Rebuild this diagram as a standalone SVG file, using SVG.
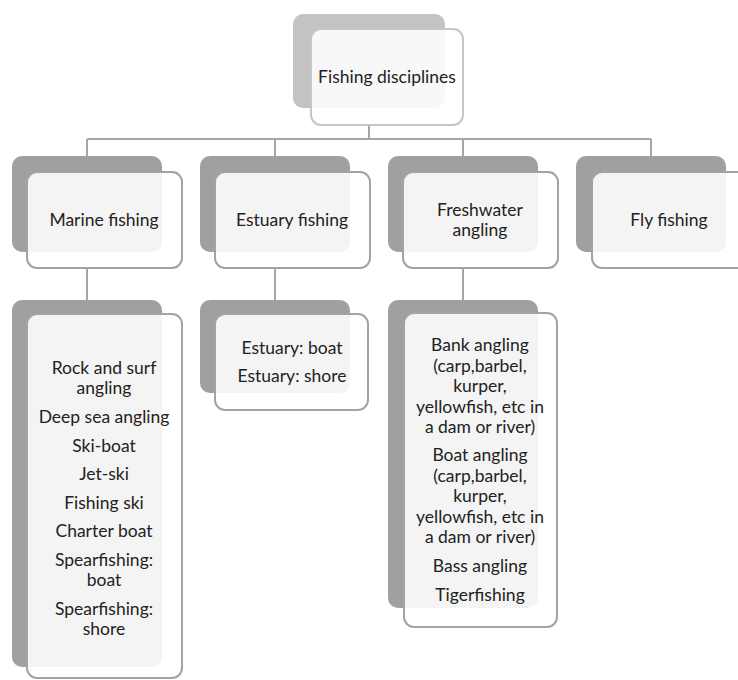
<svg xmlns="http://www.w3.org/2000/svg" width="738" height="680" viewBox="0 0 738 680">
  <style>
    .back { fill: #a0a0a0; }
    .back-top { fill: #c3c3c3; }
    .front { fill: #ffffff; fill-opacity: 0.88; stroke: #a3a3a3; stroke-width: 2; }
    .front-top { fill: #ffffff; fill-opacity: 0.88; stroke: #c6c6c6; stroke-width: 2; }
    .conn { fill: none; stroke: #a6a6a6; stroke-width: 2; }
    text { font-family: Lato, "Open Sans", sans-serif; font-size: 17.5px; fill: #222222; text-anchor: middle; }
  </style>
  <rect width="738" height="680" fill="#ffffff"/>

  <!-- tree connectors -->
  <g id="connectors">
    <path class="conn" d="M369 125 V139 M87 139 H651 M87 139 V156 M275 139 V156 M463 139 V156 M651 139 V156"/>
    <path class="conn" d="M87 268 V300 M275 268 V300 M463 268 V300"/>
  </g>

  <!-- root -->
  <g id="root">
    <rect class="back-top" x="293" y="14" width="152" height="94" rx="10"/>
    <rect class="front-top" x="311" y="29" width="152" height="96" rx="10"/>
    <text x="387" y="83">Fishing disciplines</text>
  </g>

  <!-- level one -->
  <g id="marine">
    <rect class="back" x="12" y="156" width="150" height="96" rx="10"/>
    <rect class="front" x="27" y="172" width="155" height="96" rx="10"/>
    <text x="104" y="226">Marine fishing</text>
  </g>
  <g id="estuary">
    <rect class="back" x="200" y="156" width="150" height="96" rx="10"/>
    <rect class="front" x="215" y="172" width="155" height="96" rx="10"/>
    <text x="292" y="226">Estuary fishing</text>
  </g>
  <g id="freshwater">
    <rect class="back" x="388" y="156" width="150" height="96" rx="10"/>
    <rect class="front" x="403" y="172" width="155" height="96" rx="10"/>
    <text x="480" y="216">Freshwater</text>
    <text x="480" y="236">angling</text>
  </g>
  <g id="fly">
    <rect class="back" x="576" y="156" width="150" height="96" rx="10"/>
    <rect class="front" x="592" y="172" width="155" height="96" rx="10"/>
    <text x="669" y="226">Fly fishing</text>
  </g>

  <!-- level two -->
  <g id="marine-list">
    <rect class="back" x="12" y="300" width="150" height="367" rx="10"/>
    <rect class="front" x="27" y="314" width="155" height="364" rx="10"/>
    <text x="104" y="374">Rock and surf</text>
    <text x="104" y="394">angling</text>
    <text x="104" y="423">Deep sea angling</text>
    <text x="104" y="452">Ski-boat</text>
    <text x="104" y="480">Jet-ski</text>
    <text x="104" y="509">Fishing ski</text>
    <text x="104" y="537">Charter boat</text>
    <text x="104" y="566">Spearfishing:</text>
    <text x="104" y="586">boat</text>
    <text x="104" y="615">Spearfishing:</text>
    <text x="104" y="635">shore</text>
  </g>
  <g id="estuary-list">
    <rect class="back" x="200" y="300" width="150" height="93" rx="10"/>
    <rect class="front" x="215" y="314" width="153" height="96" rx="10"/>
    <text x="292" y="354">Estuary: boat</text>
    <text x="292" y="382">Estuary: shore</text>
  </g>
  <g id="freshwater-list">
    <rect class="back" x="388" y="300" width="150" height="308" rx="10"/>
    <rect class="front" x="404" y="313" width="153" height="314" rx="10"/>
    <text x="480" y="351">Bank angling</text>
    <text x="480" y="372">(carp,barbel,</text>
    <text x="480" y="392">kurper,</text>
    <text x="480" y="413">yellowfish, etc in</text>
    <text x="480" y="433">a dam or river)</text>
    <text x="480" y="461">Boat angling</text>
    <text x="480" y="482">(carp,barbel,</text>
    <text x="480" y="502">kurper,</text>
    <text x="480" y="523">yellowfish, etc in</text>
    <text x="480" y="543">a dam or river)</text>
    <text x="480" y="572">Bass angling</text>
    <text x="480" y="601">Tigerfishing</text>
  </g>
</svg>
